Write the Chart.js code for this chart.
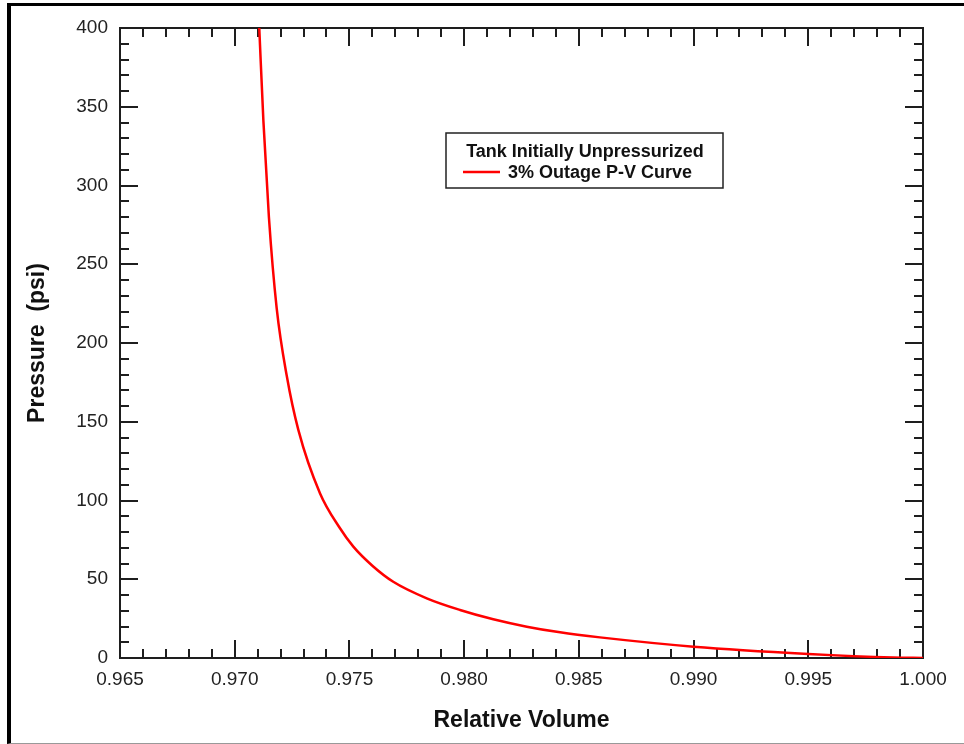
<!DOCTYPE html>
<html>
<head>
<meta charset="utf-8">
<script src="https://cdn.jsdelivr.net/npm/chart.js@4.4.1/dist/chart.umd.min.js"></script>
<style>
    body { margin: 0; background: #fff; overflow: hidden; }
    .wrap { position: relative; width: 964px; height: 744px; }
    .frame {
        position: absolute; left: 7px; top: 3px; width: 1000px; height: 741px;
        box-sizing: border-box;
        border-left: 4px solid #000; border-top: 3px solid #000; border-bottom: 1px solid #999;
    }
    canvas { position: absolute; left: 0; top: 0; }
</style>
</head>
<body>
<div class="wrap">
    <div class="frame"></div>
    <canvas id="Chart1" width="964" height="744"></canvas>
</div>
<script>
// values
const volume = [1.00000, 0.99870, 0.99500, 0.99000, 0.98592, 0.98418, 0.98273, 0.98127,
    0.97982, 0.97837, 0.97691, 0.97600, 0.97517, 0.97456, 0.97372, 0.97277,
    0.97227, 0.97183, 0.97149, 0.97125, 0.97107];
const pressure = [0, 0.3, 2.6, 7.2, 13.1, 16.3, 19.9, 24.6,
    30.5, 37.9, 48.4, 58.6, 70.7, 83, 104.5, 145,
    179, 222, 280, 341, 400];

const xTicks = [0.965, 0.970, 0.975, 0.980, 0.985, 0.990, 0.995, 1.000];
const xTickLabels = ['0.965', '0.970', '0.975', '0.980', '0.985', '0.990', '0.995', '1.000'];
const yTicks = [0, 50, 100, 150, 200, 250, 300, 350, 400];
const yTickLabels = ['0', '50', '100', '150', '200', '250', '300', '350', '400'];
const xMinorStep = 0.001;
const yMinorStep = 10;

const legendTitle = 'Tank Initially Unpressurized';
const seriesName = '3% Outage P-V Curve';

const fontFamily = '"Liberation Sans", Arial, sans-serif';

// box with inward ticks on all four sides
const frameTicks = {
    id: 'frameTicks',
    beforeDatasetsDraw(chart) {
        const { ctx, chartArea: a, scales: { x, y } } = chart;
        ctx.save();
        ctx.strokeStyle = '#1e1e1e';
        ctx.lineWidth = 2;
        ctx.beginPath();
        const xMajor = xTicks.map(v => Math.round(v * 1000));
        for (let v = x.min; v <= x.max + 1e-9; v += xMinorStep) {
            const px = Math.round(x.getPixelForValue(v));
            const len = xMajor.includes(Math.round(v * 1000)) ? 18 : 9;
            ctx.moveTo(px, a.bottom); ctx.lineTo(px, a.bottom - len);
            ctx.moveTo(px, a.top); ctx.lineTo(px, a.top + len);
        }
        for (let v = y.min; v <= y.max; v += yMinorStep) {
            const py = Math.round(y.getPixelForValue(v));
            const len = yTicks.includes(v) ? 18 : 9;
            ctx.moveTo(a.left, py); ctx.lineTo(a.left + len, py);
            ctx.moveTo(a.right, py); ctx.lineTo(a.right - len, py);
        }
        ctx.stroke();
        ctx.strokeRect(a.left, a.top, a.right - a.left, a.bottom - a.top);
        ctx.restore();
    }
};

const boxLegend = {
    id: 'boxLegend',
    afterDraw(chart) {
        const ctx = chart.ctx;
        const ds = chart.data.datasets[0];
        ctx.save();
        ctx.strokeStyle = '#222';
        ctx.lineWidth = 1.5;
        ctx.strokeRect(446, 133, 277, 55);
        ctx.fillStyle = '#111';
        ctx.font = 'bold 18px ' + fontFamily;
        ctx.textBaseline = 'alphabetic';
        ctx.textAlign = 'center';
        ctx.fillText(legendTitle, 585, 157);
        ctx.textAlign = 'left';
        ctx.fillText(ds.label, 508, 178);
        ctx.strokeStyle = ds.borderColor;
        ctx.lineWidth = 2.5;
        ctx.beginPath();
        ctx.moveTo(463, 172); ctx.lineTo(500, 172);
        ctx.stroke();
        ctx.restore();
    }
};

const ctx1 = document.getElementById('Chart1').getContext('2d');

new Chart(ctx1, {
    type: 'line',
    data: {
        datasets: [{
            label: seriesName,
            data: volume.map((v, i) => ({ x: v, y: pressure[i] })),
            borderColor: '#ff0000',
            borderWidth: 2.5,
            radius: 0,
            cubicInterpolationMode: 'monotone'
        }]
    },
    options: {
        responsive: false,
        animation: false,
        layout: { padding: { left: 0, top: 28, right: 41, bottom: 0 } },
        plugins: {
            legend: { display: false },
            tooltip: { enabled: false }
        },
        scales: {
            x: {
                type: 'linear',
                min: 0.965,
                max: 1.0,
                grid: { display: false, drawTicks: false },
                border: { display: false },
                afterBuildTicks: s => { s.ticks = xTicks.map(v => ({ value: v })); },
                afterFit: s => { s.height = 86; },
                ticks: {
                    padding: 10,
                    color: '#222',
                    maxRotation: 0,
                    autoSkip: false,
                    font: { family: fontFamily, size: 19 },
                    callback: (v, i) => xTickLabels[i]
                },
                title: {
                    display: true,
                    text: 'Relative Volume',
                    color: '#111',
                    font: { family: fontFamily, size: 23, weight: 'bold' },
                    padding: { top: 0, bottom: 10 }
                }
            },
            y: {
                type: 'linear',
                min: 0,
                max: 400,
                grid: { display: false, drawTicks: false },
                border: { display: false },
                afterBuildTicks: s => { s.ticks = yTicks.map(v => ({ value: v })); },
                afterFit: s => { s.width = 120; },
                ticks: {
                    padding: 12,
                    color: '#222',
                    autoSkip: false,
                    font: { family: fontFamily, size: 19 },
                    callback: (v, i) => yTickLabels[i]
                },
                title: {
                    display: true,
                    text: 'Pressure  (psi)',
                    color: '#111',
                    font: { family: fontFamily, size: 23, weight: 'bold' },
                    padding: { top: 24, bottom: 0 }
                }
            }
        }
    },
    plugins: [frameTicks, boxLegend]
});
</script>
</body>
</html>
